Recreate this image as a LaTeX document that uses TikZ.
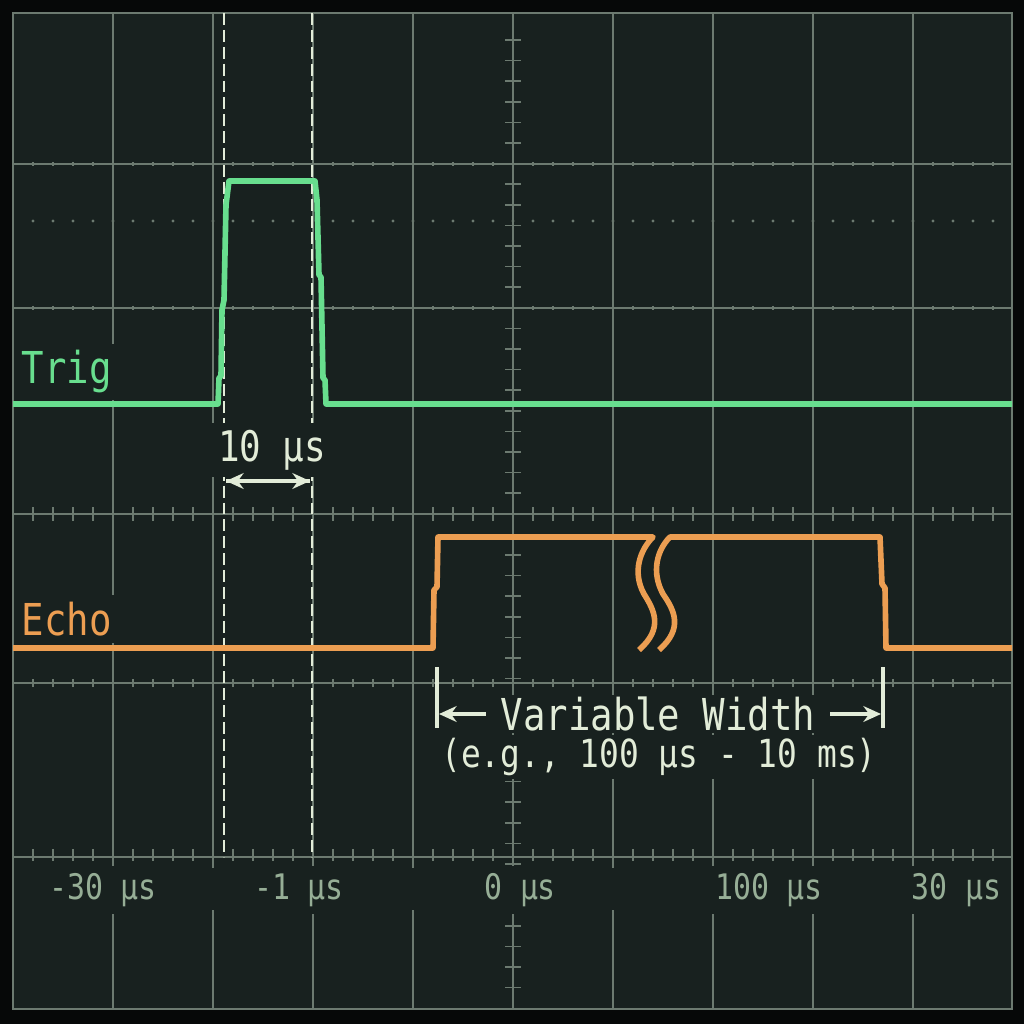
\documentclass[tikz,border=0pt]{standalone}
\usepackage{fontspec}
\newfontfamily\crtfont[FakeStretch=0.85]{DejaVu Sans Mono}
\usetikzlibrary{arrows.meta}
\definecolor{bezel}{RGB}{6,8,8}
\definecolor{screen}{RGB}{24,33,31}
\definecolor{gridc}{RGB}{108,122,112}
\definecolor{trigc}{RGB}{104,222,142}
\definecolor{echoc}{RGB}{236,158,82}
\definecolor{annc}{RGB}{226,236,216}
\definecolor{axisc}{RGB}{150,174,150}

\begin{document}
\begin{tikzpicture}[x=0.01cm, y=-0.01cm, lbl/.style={inner sep=2pt, fill=screen, font=\crtfont\fontsize{12.5}{14}\selectfont}]
\tikzstyle{gridline}=[draw=gridc, line width=0.6pt]
\tikzstyle{minor}=[draw=gridc, line width=0.5pt]
\tikzstyle{trace}=[line width=1.6pt, line join=round]
\tikzstyle{marker}=[draw=annc, line width=0.75pt, dash pattern=on 3.4pt off 1.4pt]
\tikzstyle{ann}=[draw=annc, line width=0.9pt]
\tikzstyle{tip}=[-{Stealth[length=5pt,width=4.5pt]}]
\tikzstyle{tick}=[inner sep=2pt, fill=screen, text=axisc, font=\crtfont\fontsize{10}{12}\selectfont]
\useasboundingbox (0,0) rectangle (1024,1024);
\fill[bezel] (0,0) rectangle (1024,1024);
\fill[screen] (13,13) rectangle (1012,1009);
% graticule
\foreach \x in {113,213,...,913}{\draw[gridline] (\x,13) -- (\x,868); \draw[gridline] (\x,910) -- (\x,1009);}
\foreach \y in {164,308,514,683,857}{\draw[gridline] (13,\y) -- (1012,\y);}
\foreach \x in {33,53,...,1000}{
  \draw[minor] (\x,507) -- (\x,521);
  \draw[minor] (\x,849) -- (\x,861);
  \draw[minor] (\x,679) -- (\x,687);
  \draw[minor] (\x,162) -- (\x,166);
  \draw[minor] (\x,306) -- (\x,310);
  \fill[gridc] (\x,221) circle (0.45pt);
}
\foreach \y in {40,60.6,...,1000}{\draw[minor] (505,\y) -- (521,\y);}
\draw[gridline] (13,13) rectangle (1012,1009);
% cursors
\coordinate (m1t) at (224,13);
\coordinate (m1b) at (224,857);
\coordinate (m2t) at (312,13);
\coordinate (m2b) at (312,857);
\draw[marker] (m1t) -- (m1b);
\draw[marker] (m2t) -- (m2b);
% traces
\draw[trace, trigc] (13,404) -- (218,404) -- (219,378) -- (221,376) -- (222,310) -- (224,300) -- (226,205) -- (229,181) -- (315,181) -- (317,200) -- (319,275) -- (321,277) -- (323,378) -- (325,380) -- (326,404) -- (1012,404);
\draw[trace, echoc] (13,648) -- (433,648) -- (434,590) -- (437,587) -- (438,537) -- (653,537) .. controls (640,550) and (632,572) .. (644,594) .. controls (654,610) and (664,628) .. (639,650);
\draw[trace, echoc] (659,650) .. controls (684,628) and (674,610) .. (663,594) .. controls (651,572) and (657,550) .. (670,537) -- (880,537) -- (882,584) -- (885,588) -- (886,648) -- (1012,648);
% labels
\node[lbl, text=trigc, anchor=west] (trig) at (14,372) {Trig};
\node[lbl, text=echoc, anchor=west] (echo) at (14,619) {Echo};
\node[lbl, text=annc, font=\crtfont\fontsize{12}{14}\selectfont] (w10) at (272,450) {10 µs};
\coordinate (a1) at (226,481);
\coordinate (a2) at (310,481);
\draw[ann, tip] (a1) -- (a2);
\draw[ann, tip] (a2) -- (a1);
\coordinate (vl1) at (437,667);
\coordinate (vl2) at (437,728);
\coordinate (vr1) at (883,667);
\coordinate (vr2) at (883,728);
\draw[ann] (vl1) -- (vl2);
\draw[ann] (vr1) -- (vr2);
\node[lbl, text=annc, inner sep=1pt, font=\crtfont\fontsize{11}{13}\selectfont] (range) at (659,757) {(e.g., 100 µs - 10 ms)};
\node[lbl, text=annc, inner xsep=4pt, inner ysep=0.5pt] (vw) at (658,714) {Variable Width};
\coordinate (vwl) at (439,714);
\coordinate (vwr) at (881,714);
\draw[ann, tip] (vw.west) -- (vwl);
\draw[ann, tip] (vw.east) -- (vwr);
\foreach \x/\t/\n in {103/-30 µs/l1, 299/-1 µs/l2, 520/0 µs/l3, 769/100 µs/l4, 956/30 µs/l5}{\node[tick] (\n) at (\x,890) {\t};}
\end{tikzpicture}
\end{document}
